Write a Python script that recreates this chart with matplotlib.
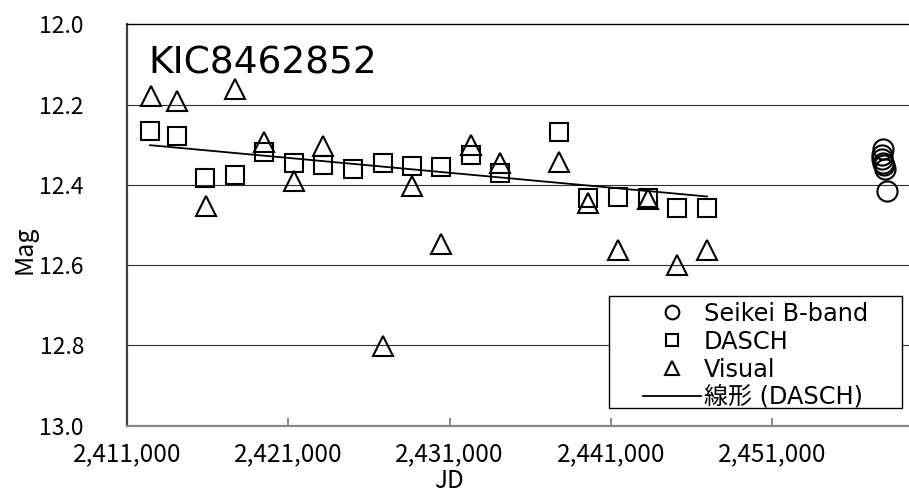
import numpy as np
import matplotlib
matplotlib.use("Agg")
import matplotlib.pyplot as plt
from matplotlib.patches import Rectangle
from matplotlib.ticker import FuncFormatter

plt.rcParams['font.family'] = ['Noto Sans CJK JP', 'DejaVu Sans']

# ---- data ----
dasch_jd = [2412430, 2414100, 2415840, 2417700, 2419490, 2421350, 2423150,
            2425000, 2426870, 2428670, 2430470, 2432330, 2434130, 2437780,
            2439580, 2441440, 2443300, 2445100, 2446960]
dasch_mag = [12.266, 12.278, 12.383, 12.375, 12.318, 12.345, 12.350,
             12.360, 12.346, 12.353, 12.355, 12.326, 12.371, 12.268,
             12.433, 12.430, 12.433, 12.457, 12.458]

visual_jd = [2412490, 2414100, 2417700, 2415900, 2419490, 2421350, 2423150,
             2426870, 2428670, 2430470, 2432330, 2434130, 2437780, 2439580,
             2441440, 2443300, 2445100, 2446960]
visual_mag = [12.179, 12.191, 12.161, 12.453, 12.293, 12.390, 12.303,
              12.801, 12.403, 12.547, 12.300, 12.346, 12.344, 12.445,
              12.563, 12.435, 12.600, 12.563]

seikei_jd = [2457850, 2457820, 2457780, 2457880, 2457990, 2457950, 2458100]
seikei_mag = [12.310, 12.325, 12.335, 12.345, 12.360, 12.350, 12.415]

x_ticks = [2411000, 2421000, 2431000, 2441000, 2451000]
y_ticks = [12.0, 12.2, 12.4, 12.6, 12.8, 13.0]

title_text = "KIC8462852"
labels = ["Seikei B-band", "DASCH", "Visual", "線形 (DASCH)"]

LEGF = ['DejaVu Sans', 'Noto Sans CJK JP']

# ---- figure ----
W, H = 909, 493
fig = plt.figure(figsize=(W / 100, H / 100), dpi=100)
ax_l, ax_r, ax_t, ax_b = 127, 909, 24.3, 425.7
ax = fig.add_axes([ax_l / W, 1 - ax_b / H, (ax_r - ax_l) / W, (ax_b - ax_t) / H])

ax.set_xlim(2411000, 2459480)
ax.set_ylim(13.0, 12.0)

for yv in y_ticks[1:-1]:
    ax.axhline(yv, color='#303030', lw=0.8, zorder=0)

mk = dict(linestyle='none', markerfacecolor='none', markeredgecolor='black',
          markeredgewidth=1.5)
h_c, = ax.plot(seikei_jd, seikei_mag, marker='o', markersize=14.5, **mk)
h_s, = ax.plot(dasch_jd, dasch_mag, marker='s', markersize=13.5, **mk)
h_t, = ax.plot(visual_jd, visual_mag, marker='^', markersize=14, **mk)

coef = np.polyfit(dasch_jd, dasch_mag, 1)
xs = np.array([min(dasch_jd), max(dasch_jd)])
h_l, = ax.plot(xs, np.polyval(coef, xs), color='black', lw=1.3)

# spines / ticks
ax.spines['right'].set_visible(False)
ax.spines['top'].set_color('black')
ax.spines['top'].set_linewidth(1.0)
ax.spines['left'].set_color('#404040')
ax.spines['left'].set_linewidth(1.6)
ax.spines['bottom'].set_color('#888888')
ax.spines['bottom'].set_linewidth(1.6)

ax.set_xticks(x_ticks)
ax.set_yticks(y_ticks)
ax.xaxis.set_major_formatter(FuncFormatter(lambda v, p: f"{int(v):,}"))
ax.yaxis.set_major_formatter(FuncFormatter(lambda v, p: f"{v:.1f}"))
ax.tick_params(axis='x', direction='in', length=6, width=1.4, color='#888888',
               pad=11, labelsize=17.5)
ax.tick_params(axis='y', length=0, pad=31, labelsize=16.5)

fig.text(24 / W, 1 - 250 / H, "Mag", rotation=90, ha='center', va='center',
         fontsize=18)
fig.text(449 / W, 1 - 481 / H, "JD", ha='center', va='center', fontsize=17.5)

fig.text(148 / W, 1 - 63.5 / H, title_text, ha='left', va='center',
         fontsize=27, family=LEGF)

# legend box
x0 = (609 - ax_l) / (ax_r - ax_l)
x1 = (902 - ax_l) / (ax_r - ax_l)
y0 = (ax_b - 408) / (ax_b - ax_t)
y1 = (ax_b - 296) / (ax_b - ax_t)
ax.add_patch(Rectangle((x0, y0), x1 - x0, y1 - y0, transform=ax.transAxes,
                       facecolor='white', edgecolor='black', lw=1.0, zorder=5))
leg = ax.legend([h_c, h_s, h_t, h_l], labels, loc='center',
                bbox_to_anchor=(x0, y0 - 0.009, x1 - x0, y1 - y0), frameon=False,
                prop={'family': LEGF, 'size': 17.3}, markerscale=0.68,
                handlelength=2.4, handletextpad=0.12, labelspacing=0.16,
                borderpad=0.05)
leg.set_zorder(6)

fig.savefig("out.png", dpi=100)
